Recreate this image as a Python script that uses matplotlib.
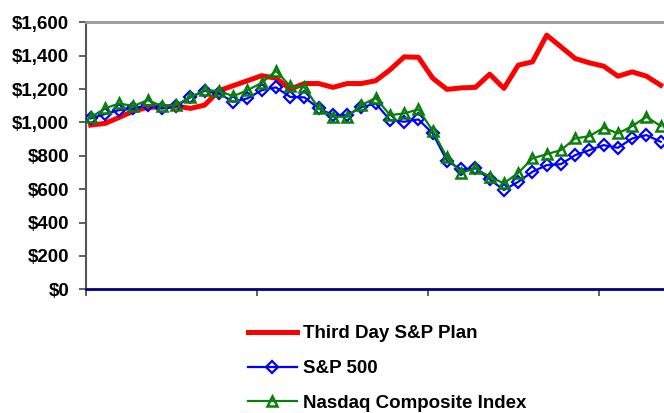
import matplotlib
matplotlib.use("Agg")
import matplotlib.pyplot as plt

# ---- data ----
plan = [984, 994, 1030, 1068, 1090, 1093, 1098, 1084, 1104, 1190, 1220, 1250, 1280, 1265,
        1200, 1233, 1233, 1210, 1233, 1233, 1250, 1315, 1393, 1390,
        1265, 1198, 1207, 1210, 1289, 1204, 1343, 1363, 1523, 1453, 1383, 1357, 1337, 1277, 1303, 1277, 1223]
sp500 = [1024, 1050, 1074, 1084, 1104, 1084, 1098, 1150, 1189, 1174, 1123, 1144, 1193, 1210,
         1153, 1150, 1084, 1044, 1044, 1090, 1114, 1014, 1004, 1018,
         934, 770, 718, 725, 659, 595, 644, 704, 744, 750, 804, 834, 864, 848, 904, 924, 884]
nasdaq = [1030, 1084, 1114, 1098, 1134, 1098, 1104, 1153, 1193, 1189, 1157, 1193, 1237, 1309,
          1217, 1210, 1084, 1034, 1034, 1104, 1147, 1044, 1054, 1078,
          950, 790, 698, 725, 674, 635, 698, 784, 810, 834, 904, 918, 968, 934, 978, 1034, 978]
series_names = ["Third Day S&P Plan", "S&P 500", "Nasdaq Composite Index"]
y_ticks = [0, 200, 400, 600, 800, 1000, 1200, 1400, 1600]
y_tick_labels = ["$0", "$200", "$400", "$600", "$800", "$1,000", "$1,200", "$1,400", "$1,600"]
months_per_tick = 12

plt.rcParams['font.family'] = ['Liberation Sans', 'DejaVu Sans']
plt.rcParams['font.weight'] = 'bold'

fig = plt.figure(figsize=(6.64, 4.13), dpi=100)
ax = fig.add_axes([86/664, 1 - 289.3/413, 1 - 86/664, (289.3 - 22.3)/413])

x = list(range(len(plan)))
ax.plot(x, plan, color='#FF0000', lw=3.6, solid_joinstyle='round', zorder=3, label=series_names[0])
ax.plot(x, sp500, color='#0000FF', lw=1.6, marker='D', ms=6, mfc='none', mec='#0000FF',
        mew=1.6, zorder=4, label=series_names[1])
ax.plot(x, nasdaq, color='#0A800A', lw=1.6, marker='^', ms=7.5, mfc='none', mec='#0A800A',
        mew=1.8, zorder=5, label=series_names[2])

x0 = -0.33
ax.set_xlim(x0, x0 + (664 - 86) / 14.25)
ax.set_ylim(0, 1600)
ax.set_xticks([x0 + months_per_tick * k for k in range(4)])
ax.set_xticklabels([])
ax.set_yticks(y_ticks)
ax.set_yticklabels(y_tick_labels, fontsize=13.5, fontweight='bold')

ax.tick_params(axis='y', direction='out', length=5, width=1.2, color='#444444', pad=7)
ax.tick_params(axis='x', direction='out', length=5, width=1.2, color='#444444')

ax.spines['right'].set_visible(False)
ax.spines['top'].set_color('#999999')
ax.spines['top'].set_linewidth(2)
ax.spines['left'].set_color('#555555')
ax.spines['left'].set_linewidth(1.5)
ax.spines['bottom'].set_color('#000080')
ax.spines['bottom'].set_linewidth(2)
ax.spines['bottom'].set_zorder(6)

handles, labels = ax.get_legend_handles_labels()
leg = fig.legend(handles, labels, loc='upper left', bbox_to_anchor=(248/664, 1 - 325/413),
                 frameon=False, prop={'weight': 'bold', 'size': 13.5},
                 handlelength=2.6, handletextpad=0.35, labelspacing=0.95, borderpad=0,
                 borderaxespad=0)

fig.savefig("out.png", dpi=100)
